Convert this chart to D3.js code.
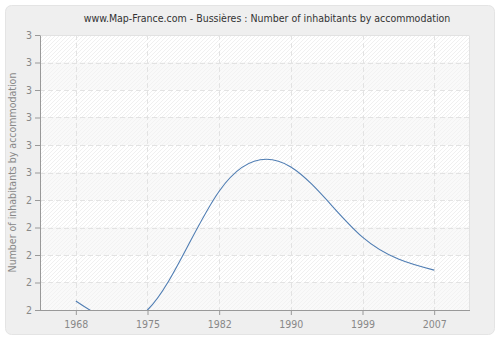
<!DOCTYPE html>
<html>
<head>
<meta charset="utf-8">
<script src="https://cdn.jsdelivr.net/npm/d3@7"></script>
<style>
  body { margin: 0; background: #fff; }
  text { font-family: "DejaVu Sans Condensed", "DejaVu Sans", sans-serif; }
</style>
</head>
<body>
<svg id="chart"></svg>
<script>
// chart data
let years = ['1968', '1975', '1982', '1990', '1999', '2007']
let values = [2.033, 2.0, 2.432, 2.52, 2.265, 2.145]
let yTicks = [2.0, 2.1, 2.2, 2.3, 2.4, 2.5, 2.6, 2.7, 2.8, 2.9, 3.0]

let fontFam = '"DejaVu Sans Condensed", "DejaVu Sans", sans-serif'
let outerWidth = 500
let outerHeight = 340
let margins = { top: 35, bottom: 30, left: 40, right: 30 }
let innerWidth = outerWidth - margins.left - margins.right
let innerHeight = outerHeight - margins.top - margins.bottom

let svg = d3.select('svg#chart')
  .attr('width', outerWidth)
  .attr('height', outerHeight)

let defs = svg.append('defs')

// diagonal hatching for the plot background
let hatch = defs.append('pattern')
  .attr('id', 'hatch')
  .attr('patternUnits', 'userSpaceOnUse')
  .attr('width', 4)
  .attr('height', 4)
hatch.append('rect').attr('width', 4).attr('height', 4).attr('fill', '#ffffff')
hatch.append('path')
  .attr('d', 'M-1,1 l2,-2 M0,4 l4,-4 M3,5 l2,-2')
  .attr('stroke', '#ececec')
  .attr('stroke-width', 0.8)

let hatch2 = defs.append('pattern')
  .attr('id', 'hatch2')
  .attr('patternUnits', 'userSpaceOnUse')
  .attr('width', 4)
  .attr('height', 4)
hatch2.append('rect').attr('width', 4).attr('height', 4).attr('fill', '#f9f9f9')
hatch2.append('path')
  .attr('d', 'M-1,1 l2,-2 M0,4 l4,-4 M3,5 l2,-2')
  .attr('stroke', '#f0f0f0')
  .attr('stroke-width', 0.8)

defs.append('clipPath')
  .attr('id', 'plot-clip')
  .append('rect')
  .attr('width', innerWidth)
  .attr('height', innerHeight)

// outer panel
svg.append('rect')
  .attr('x', 5.5)
  .attr('y', 5.5)
  .attr('width', outerWidth - 11)
  .attr('height', outerHeight - 11)
  .attr('rx', 6)
  .attr('fill', '#efefef')
  .attr('stroke', '#e4e4e4')

svg.append('text')
  .attr('x', 267)
  .attr('y', 22)
  .attr('text-anchor', 'middle')
  .attr('font-size', 10.5)
  .attr('fill', '#333')
  .text('www.Map-France.com - Bussières : Number of inhabitants by accommodation')

let inner = svg.append('g')
  .attr('transform', 'translate(' + margins.left + ',' + margins.top + ')')

let xScale = d3.scalePoint()
  .domain(years)
  .range([0, innerWidth])
  .padding(0.5)

let yScale = d3.scaleLinear()
  .domain([2.0, 3.0])
  .range([innerHeight, 0])

// alternating bands
inner.selectAll('rect.band')
  .data(yTicks.slice(0, -1))
  .enter()
  .append('rect')
  .attr('class', 'band')
  .attr('x', 0)
  .attr('width', innerWidth)
  .attr('y', d => yScale(d + 0.1))
  .attr('height', d => yScale(d) - yScale(d + 0.1))
  .attr('fill', (d, i) => i % 2 == 0 ? 'url(#hatch2)' : 'url(#hatch)')

// plot border (top / right)
inner.append('path')
  .attr('d', 'M0,0.5 H' + (innerWidth - 0.5) + ' V' + innerHeight)
  .attr('fill', 'none')
  .attr('stroke', '#e2e2e2')

// grid lines
inner.selectAll('line.hgrid')
  .data(yTicks.slice(1, -1))
  .enter()
  .append('line')
  .attr('x1', 0)
  .attr('x2', innerWidth)
  .attr('y1', d => Math.round(yScale(d)) + 0.5)
  .attr('y2', d => Math.round(yScale(d)) + 0.5)
  .attr('stroke', '#e3e3e3')
  .attr('stroke-dasharray', '5,3')

inner.selectAll('line.vgrid')
  .data(years)
  .enter()
  .append('line')
  .attr('x1', d => Math.round(xScale(d)) + 0.5)
  .attr('x2', d => Math.round(xScale(d)) + 0.5)
  .attr('y1', 0)
  .attr('y2', innerHeight)
  .attr('stroke', '#e3e3e3')
  .attr('stroke-dasharray', '5,3')

// the line
let line = d3.line()
  .x((d, i) => xScale(years[i]))
  .y(d => yScale(d))
  .curve(d3.curveNatural)

inner.append('path')
  .datum(values)
  .attr('clip-path', 'url(#plot-clip)')
  .attr('d', line)
  .attr('fill', 'none')
  .attr('stroke', '#4f7db3')
  .attr('stroke-width', 1.1)

// axes
let xAxis = d3.axisBottom(xScale).tickSize(5).tickSizeOuter(0).tickPadding(6)
let yAxis = d3.axisLeft(yScale).tickValues(yTicks).tickSize(5).tickSizeOuter(0)
  .tickFormat(d => d3.format('.0f')(d + 1e-9))

let gx = inner.append('g')
  .attr('transform', 'translate(0,' + innerHeight + ')')
  .call(xAxis)
gx.select('.domain').attr('stroke', '#999').attr('d', 'M0,0.5H' + innerWidth)
gx.selectAll('line').attr('stroke', '#999')
gx.selectAll('text').attr('fill', '#888').attr('font-size', 10.5).attr('font-family', fontFam)

let gy = inner.append('g').call(yAxis)
gy.select('.domain').attr('stroke', '#999')
gy.selectAll('line').attr('stroke', '#999')
gy.selectAll('text').attr('fill', '#888').attr('font-size', 10.5).attr('font-family', fontFam)

svg.append('text')
  .attr('text-anchor', 'middle')
  .attr('font-size', 10.5)
  .attr('fill', '#888')
  .attr('transform', 'translate(16,' + (margins.top + innerHeight / 2) + ') rotate(-90)')
  .text('Number of inhabitants by accommodation')
</script>
</body>
</html>
